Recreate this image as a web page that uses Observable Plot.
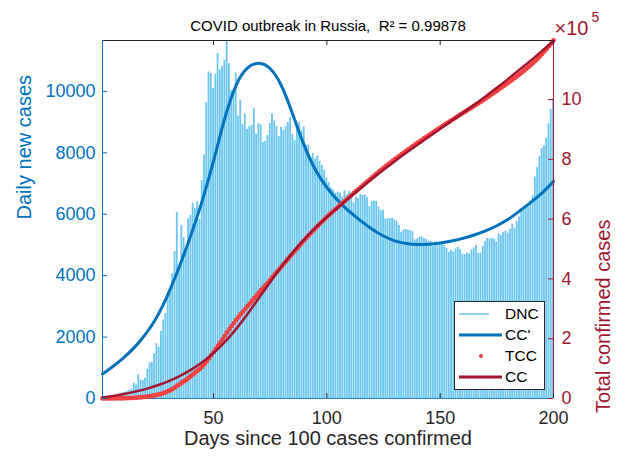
<!DOCTYPE html>
<html><head><meta charset="utf-8">
<script src="https://cdn.jsdelivr.net/npm/d3@7"></script>
<script src="https://cdn.jsdelivr.net/npm/@observablehq/plot@0.6"></script>
<style>
html,body{margin:0;padding:0;background:#fff;}
#chart{width:624px;height:457px;overflow:hidden;}
</style></head><body><div id="chart"></div>
<script>
// ---- data ----
const dnc = [
30,33,52,54,53,62,71,57,163,182,
196,228,270,302,500,440,771,601,582,658,
954,1154,1175,1459,1786,1667,2186,2558,2774,3388,
3448,4070,4785,6060,4268,5642,5236,4774,5849,5966,
6361,6198,6411,5841,7099,7933,9623,10633,10581,10102,
10559,11231,10699,10817,11012,11656,10899,10028,9974,10598,
9200,9709,8926,9263,8764,8849,8894,9434,8599,8946,
8915,8338,8371,8572,8952,9268,9035,8863,8536,8831,
8726,8855,8985,9152,8595,8404,8779,8987,8706,8835,
8246,8248,7843,7972,7790,7889,7728,7600,7425,7176,
7040,6850,6790,6690,6720,6690,6560,6760,6630,6740,
6610,6370,6560,6510,6640,6610,6620,6540,6250,6420,
6430,6410,6230,6110,6140,5840,5860,5850,5870,5810,
5770,5640,5400,5480,5510,5480,5460,5430,5160,5200,
5240,5270,5210,5190,5120,5120,4950,5100,5060,5070,
5060,4970,4890,4750,4830,4770,4870,4920,4850,4700,
4680,4740,4710,4830,4900,4980,4730,4730,4950,5110,
5210,5200,5210,5190,5100,5360,5310,5410,5450,5390,
5510,5670,5530,5760,5910,6070,6150,6200,6220,6430,
6600,7210,7520,7870,8140,8230,8480,8950,9410,9760
];
const tcc = [
114,147,199,253,306,368,439,496,659,841,
1037,1265,1535,1837,2337,2777,3548,4149,4731,5389,
6343,7497,8672,10131,11917,13584,15770,18328,21102,24490,
27938,32008,36793,42853,47121,52763,57999,62773,68622,74588,
80949,87147,93558,99399,106498,114431,124054,134687,145268,155370,
165929,177160,187859,198676,209688,221344,232243,242271,252245,262843,
272043,281752,290678,299941,308705,317554,326448,335882,344481,353427,
362342,370680,379051,387623,396575,405843,414878,423741,432277,441108,
449834,458689,467674,476826,485421,493825,502604,511591,520297,529132,
537378,545626,553469,561441,569231,577120,584848,592448,599873,607049,
614089,620939,627729,634419,641139,647829,654389,661149,667779,674519,
681129,687499,694059,700569,707209,713819,720439,726979,733229,739649,
746079,752489,758719,764829,770969,776809,782669,788519,794389,800199,
805969,811609,817009,822489,827999,833479,838939,844369,849529,854729,
859969,865239,870449,875639,880759,885879,890829,895929,900989,906059,
911119,916089,920979,925729,930559,935329,940199,945119,949969,954669,
959349,964089,968799,973629,978529,983509,988239,992969,997919,1003029,
1008239,1013439,1018649,1023839,1028939,1034299,1039609,1045019,1050469,1055859,
1061369,1067039,1072569,1078329,1084239,1090309,1096459,1102659,1108879,1115309,
1121909,1129119,1136639,1144509,1152649,1160879,1169359,1178309,1187719,1197479
];
// fitted cumulative curve CC (total cases)
const ccDays = [1,5,10,15,20,25,30,35,40,45,50,55,60,65,70,75,80,85,90,95,100,105,110,115,120,125,130,135,140,145,150,155,160,165,170,175,180,185,190,195,200];
const ccVals = [3500,7500,14000,22000,31000,43000,57000,74000,95000,120000,151000,188000,232000,282000,336000,390000,442000,490000,533000,572000,607000,640000,672000,704000,735000,765000,794000,822000,849000,876000,902000,929000,955000,982000,1010000,1039000,1069000,1100000,1130000,1163000,1196000];
// fitted derivative CC' (daily cases)
const ccpDays = [1,5,10,15,20,25,30,35,40,45,50,55,60,65,70,75,80,85,90,95,100,105,110,115,120,125,130,135,140,145,150,155,160,165,170,175,180,185,190,195,200];
const ccpVals = [800,1000,1300,1640,2080,2620,3380,4300,5300,6400,7700,9200,10300,10830,10960,10800,10250,9250,8200,7400,6850,6420,6080,5780,5500,5280,5120,5040,5010,5020,5060,5120,5210,5320,5450,5620,5820,6100,6380,6680,7070];

const xTicks = [50,100,150,200];
const leftTicks = [0,2000,4000,6000,8000,10000];
const rightTicks = [0,2,4,6,8,10];          // ×10^5
const title = "COVID outbreak in Russia,\u00A0 R\u00B2 = 0.99878";
const xLabel = "Days since 100 cases confirmed";
const yLabelL = "Daily new cases";
const yLabelR = "Total confirmed cases";
const legendLabels = ["DNC","CC'","TCC","CC"];

// ---- build ----
const BLUE = "#0072BD", CRIMSON = "#A2142F", RED = "#F4413F", BAR = "#6cc6ef", DARK = "#262626";
const dncMax = d3.max(dnc), tccMax = d3.max(tcc);
const k = dncMax / tccMax;  // right-axis values mapped onto the left scale
const daily = dnc.map((v, i) => ({day: i + 1, v}));
const total = tcc.map((v, i) => ({day: i + 1, v: v * k}));
const cc = ccDays.map((d, i) => ({day: d, v: ccVals[i] * k}));
const ccp = ccpDays.map((d, i) => ({day: d, v: ccpVals[i]}));

const W = 624, H = 457, mL = 102, mR = 71, mT = 40, mB = 59;
const fw = W - mL - mR, fh = H - mT - mB;
const FONT = "'Liberation Sans', Arial, Helvetica, sans-serif";

const chart = Plot.plot({
  width: W, height: H,
  marginLeft: mL, marginRight: mR, marginTop: mT, marginBottom: mB,
  style: {fontFamily: FONT, fontSize: "18px", background: "white", overflow: "visible"},
  x: {domain: [1, 200]},
  y: {domain: [0, dncMax]},
  marks: [
    Plot.rectY(daily, {x1: d => d.day - 0.4, x2: d => d.day + 0.4, y: "v", fill: BAR, clip: true}),
    Plot.ruleY([0], {stroke: "#2f80bd"}),
    Plot.line(ccp, {x: "day", y: "v", stroke: BLUE, strokeWidth: 3, curve: "basis"}),
    Plot.dot(total, {x: "day", y: "v", r: 2.4, fill: RED, stroke: "none"}),
    Plot.line(cc, {x: "day", y: "v", stroke: CRIMSON, strokeWidth: 2.5, curve: "basis"}),
    // frame
    Plot.ruleY([dncMax], {stroke: DARK}),
    Plot.ruleX([1], {stroke: BLUE}),
    Plot.ruleX([200], {stroke: CRIMSON}),
    // inward ticks
    Plot.tickY(leftTicks, {y: d => d, stroke: BLUE, insetRight: fw - 5}),
    Plot.tickY(rightTicks.map(t => t * 1e5 * k), {y: d => d, stroke: CRIMSON, insetLeft: fw - 5}),
    Plot.tickX(xTicks, {x: d => d, stroke: DARK, insetTop: fh - 5}),
    Plot.tickX(xTicks, {x: d => d, stroke: DARK, insetBottom: fh - 5}),
    // axes
    Plot.axisY(leftTicks, {anchor: "left", tickSize: 0, tickPadding: 7, color: BLUE, label: null,
      tickFormat: d => String(d)}),
    Plot.axisY(rightTicks.map(t => t * 1e5 * k), {anchor: "right", tickSize: 0, tickPadding: 8, color: CRIMSON, label: null,
      tickFormat: d => String(Math.round(d / k / 1e5))}),
    Plot.axisX(xTicks, {anchor: "bottom", tickSize: 0, tickPadding: 13, color: DARK, label: null,
      tickFormat: d => String(d)}),
    // labels
    Plot.text([yLabelL], {text: d => d, frameAnchor: "left", dx: -78, rotate: -90, fill: BLUE, fontSize: 20}),
    Plot.text([yLabelR], {text: d => d, frameAnchor: "right", dx: 50, rotate: -90, fill: CRIMSON, fontSize: 20}),
    Plot.text([xLabel], {text: d => d, frameAnchor: "bottom", dy: 46, fill: DARK, fontSize: 20}),
    Plot.text([title], {text: d => d, frameAnchor: "top", dy: -20, fill: "black", fontSize: 15}),
    Plot.text(["\u00D710"], {text: d => d, frameAnchor: "top-right", textAnchor: "start", dx: 1, dy: -20, fill: CRIMSON, fontSize: 20}),
    Plot.text(["5"], {text: d => d, frameAnchor: "top-right", textAnchor: "start", dx: 38, dy: -28, fill: CRIMSON, fontSize: 14})
  ]
});

// legend box (inside the axes, lower right)
const g = d3.select(chart).append("g").attr("font-family", FONT).attr("text-anchor", "start");
g.append("rect").attr("x", 454.5).attr("y", 301.5).attr("width", 90).attr("height", 88)
  .attr("fill", "white").attr("stroke", DARK).attr("stroke-width", 1);
const rows = [
  {type: "line", x2: 489, color: "#8fd3f3", w: 2},
  {type: "line", x2: 502, color: BLUE, w: 3},
  {type: "dot", color: RED},
  {type: "line", x2: 502, color: CRIMSON, w: 3}
];
rows.forEach((r, i) => {
  const y = 314 + i * 21;
  if (r.type === "line") g.append("line").attr("x1", 459).attr("x2", r.x2).attr("y1", y).attr("y2", y)
    .attr("stroke", r.color).attr("stroke-width", r.w);
  else g.append("circle").attr("cx", 481).attr("cy", y).attr("r", 2).attr("fill", r.color);
  g.append("text").attr("x", 505).attr("y", y).attr("dy", "0.35em").attr("font-size", 15.5)
    .attr("text-anchor", "start").attr("fill", "black").text(legendLabels[i]);
});

document.getElementById("chart").appendChild(chart);
</script></body></html>
